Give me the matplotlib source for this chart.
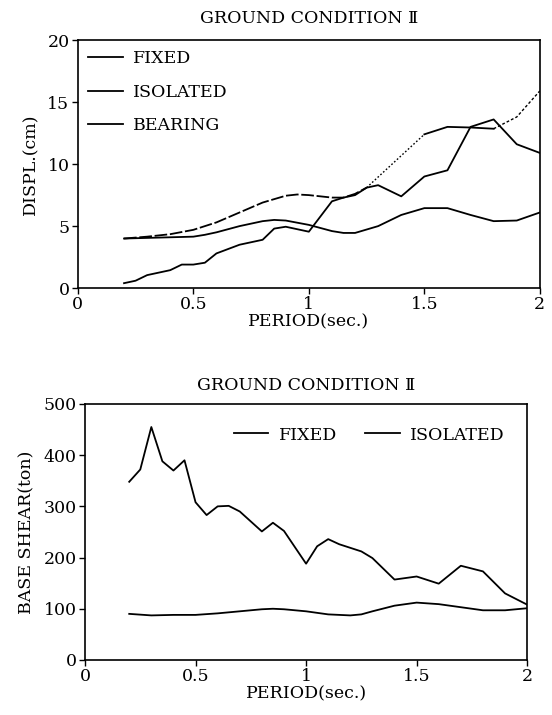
import numpy as np
import matplotlib
matplotlib.use("Agg")
import matplotlib.pyplot as plt
from matplotlib.lines import Line2D

plt.rcParams['font.family'] = ['DejaVu Serif']

# top chart: displacement
fixed_t = [0.2, 0.3, 0.4, 0.5, 0.6, 0.7, 0.8, 0.9, 0.95, 1.0, 1.1, 1.15, 1.2, 1.25,
           1.5, 1.6, 1.7, 1.8, 1.9, 2.0]
fixed_d = [4.0, 4.15, 4.35, 4.7, 5.3, 6.1, 6.9, 7.45, 7.55, 7.5, 7.3, 7.3, 7.6, 8.1,
           12.4, 13.0, 12.95, 12.85, 13.8, 15.9]
iso_t = [0.2, 0.25, 0.3, 0.35, 0.4, 0.45, 0.5, 0.55, 0.6, 0.7, 0.8, 0.85, 0.9, 1.0,
         1.1, 1.15, 1.2, 1.25, 1.3, 1.4, 1.5, 1.6, 1.7, 1.8, 1.9, 2.0]
iso_d = [0.4, 0.6, 1.05, 1.25, 1.45, 1.9, 1.9, 2.05, 2.8, 3.5, 3.9, 4.8, 4.95, 4.55,
         7.0, 7.3, 7.5, 8.1, 8.3, 7.4, 9.0, 9.5, 13.0, 13.6, 11.6, 10.9]
bear_t = [0.2, 0.3, 0.4, 0.5, 0.55, 0.6, 0.7, 0.8, 0.85, 0.9, 1.0, 1.1, 1.15, 1.2,
          1.3, 1.4, 1.5, 1.6, 1.7, 1.8, 1.9, 2.0]
bear_d = [4.0, 4.05, 4.1, 4.15, 4.3, 4.5, 5.0, 5.4, 5.5, 5.45, 5.1, 4.6, 4.45, 4.45,
          5.0, 5.9, 6.45, 6.45, 5.9, 5.4, 5.45, 6.1]

# bottom chart: base shear
shear_t = [0.2, 0.25, 0.3, 0.35, 0.4, 0.45, 0.5, 0.55, 0.6, 0.65, 0.7, 0.8, 0.85,
           0.9, 1.0, 1.05, 1.1, 1.15, 1.25, 1.3, 1.4, 1.5, 1.6, 1.7, 1.8, 1.9, 2.0]
shear_fixed = [348, 372, 455, 388, 370, 390, 308, 283, 300, 301, 290, 251, 268,
               252, 188, 222, 236, 226, 212, 199, 157, 163, 149, 184, 173, 130, 108]
iso_st = [0.2, 0.3, 0.4, 0.5, 0.6, 0.7, 0.8, 0.85, 0.9, 1.0, 1.1, 1.2, 1.25, 1.3,
          1.4, 1.5, 1.6, 1.7, 1.8, 1.9, 2.0]
shear_iso = [90, 87, 88, 88, 91, 95, 99, 100, 99, 95, 89, 87, 89, 95,
             106, 112, 109, 103, 97, 97, 101]

title = "GROUND CONDITION \u2161"
fs = 12.5

fig = plt.figure(figsize=(5.52, 7.15), dpi=100)
ax1 = fig.add_axes([0.141, 0.597, 0.837, 0.347])
ax2 = fig.add_axes([0.154, 0.077, 0.801, 0.358])

lw = 1.3
# fixed: dashed part, dotted jump, then solid/dotted tail
ax1.plot(fixed_t[:14], fixed_d[:14], color='k', lw=lw, dashes=(7, 1.5))
ax1.plot(fixed_t[13:15], fixed_d[13:15], color='k', lw=1.0, dashes=(1.2, 1.5))
ax1.plot(fixed_t[14:18], fixed_d[14:18], color='k', lw=lw)
ax1.plot(fixed_t[17:], fixed_d[17:], color='k', lw=1.0, dashes=(2, 1.5))
ax1.plot(iso_t, iso_d, color='k', lw=lw)
ax1.plot(bear_t, bear_d, color='k', lw=lw)

handles = [Line2D([], [], color='k', lw=lw) for _ in range(3)]
ax1.legend(handles, ["FIXED", "ISOLATED", "BEARING"], loc='upper left',
           frameon=False, fontsize=fs, handlelength=2.0, handletextpad=0.6,
           labelspacing=0.95, borderaxespad=0.2)

ax1.set_xlim(0, 2)
ax1.set_ylim(0, 20)
ax1.set_xticks([0, 0.5, 1, 1.5, 2])
ax1.set_xticklabels(["0", "0.5", "1", "1.5", "2"])
ax1.set_yticks([0, 5, 10, 15, 20])
ax1.set_xlabel("PERIOD(sec.)", fontsize=fs, labelpad=0)
ax1.set_ylabel("DISPL.(cm)", fontsize=fs, labelpad=6)
ax1.set_title(title, fontsize=fs, pad=12)

ax2.plot(shear_t, shear_fixed, color='k', lw=lw)
ax2.plot(iso_st, shear_iso, color='k', lw=lw)
handles2 = [Line2D([], [], color='k', lw=lw) for _ in range(2)]
ax2.legend(handles2, ["FIXED", "ISOLATED"], loc='upper right', ncol=2,
           frameon=False, fontsize=fs, handlelength=2.0, handletextpad=0.6,
           columnspacing=1.6, borderaxespad=0.9)

ax2.set_xlim(0, 2)
ax2.set_ylim(0, 500)
ax2.set_xticks([0, 0.5, 1, 1.5, 2])
ax2.set_xticklabels(["0", "0.5", "1", "1.5", "2"])
ax2.set_yticks([0, 100, 200, 300, 400, 500])
ax2.set_xlabel("PERIOD(sec.)", fontsize=fs, labelpad=0)
ax2.set_ylabel("BASE SHEAR(ton)", fontsize=fs, labelpad=6)
ax2.set_title(title, fontsize=fs, pad=10)

for ax in (ax1, ax2):
    ax.tick_params(direction='out', length=4, width=1, labelsize=fs, pad=2)
    for s in ax.spines.values():
        s.set_linewidth(1.2)

fig.savefig("out.png", dpi=100)
